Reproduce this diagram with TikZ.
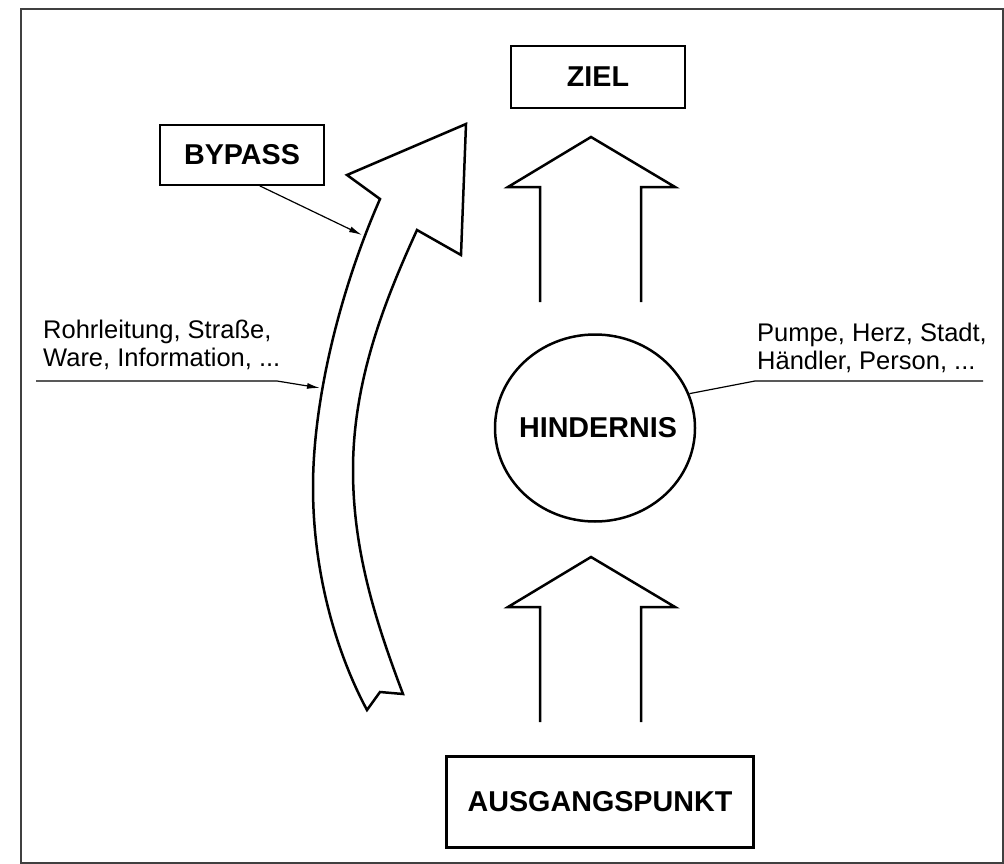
\documentclass[tikz,border=0pt]{standalone}
\usepackage{fontspec}
\setmainfont{Liberation Sans}
\usetikzlibrary{arrows.meta,shapes.geometric}

\tikzstyle{mybox} = [rectangle, draw, line width=2.5pt, text centered, inner sep=0pt,
                     font=\fontsize{28.7}{34}\selectfont\bfseries]
\tikzstyle{blockarrow} = [draw, line width=2.5pt, line join=miter]
\tikzstyle{line} = [draw, -{Latex[length=13pt,width=6pt]}, line width=1.2pt]
\tikzstyle{note} = [font=\fontsize{25.5}{27.5}\selectfont, align=left, inner sep=0pt, anchor=north west]

\begin{document}
\begin{tikzpicture}[x=1pt, y=-1pt]
    \useasboundingbox (0,0) rectangle (1004,864);
    \draw[line width=2pt, black!75] (21,9) rectangle (1003,863);

    \node[mybox, minimum width=174pt, minimum height=62pt] (Ziel) at (598,77) {ZIEL};
    \node[mybox, line width=1.8pt, minimum width=164pt, minimum height=60pt]
            (Bypass) at (242,155) {BYPASS};
    \node[mybox, ellipse, minimum width=200pt, minimum height=187pt]
            (Hindernis) at (595,428) {\makebox[0pt]{\hspace{6pt}HINDERNIS}};
    \node[mybox, minimum width=307pt, minimum height=91pt]
            (Ausgangspunkt) at (600,802) {AUSGANGSPUNKT};

    % straight arrows through the obstacle
    \foreach \tip in {137,557}
        \draw[blockarrow] (540,\tip+165) -- (540,\tip+50) -- (508,\tip+50) -- (591,\tip)
            -- (675,\tip+50) -- (641,\tip+50) -- (641,\tip+165);

    % curved bypass arrow
    \draw[blockarrow] (367,710) -- (380,692) -- (403,694)
        .. controls (375,620) and (353,550) .. (353,470)
        .. controls (353,380) and (385,300) .. (417,230)
        -- (461,255) -- (466,124) -- (347,175) -- (380,199)
        .. controls (340,290) and (313,400) .. (313,487)
        .. controls (313,580) and (340,660) .. (367,710)
        -- cycle;

    \coordinate (BypassTip) at (362,235);
    \path[line] (Bypass.-60) -- (BypassTip);

    \node[note] (Medium) at (43,320) {Rohrleitung, Straße,\\Ware, Information, ...};
    \coordinate (MediumStart) at (36,381);
    \coordinate (MediumTip) at (320,388);
    \path[line] (MediumStart) -- (277,381) -- (MediumTip);

    \node[note] (Beispiele) at (757,323) {Pumpe, Herz, Stadt,\\Händler, Person, ...};
    \coordinate (BeispieleEnd) at (983,381);
    \draw[line width=1.2pt] (BeispieleEnd) -- (755,381) -- (Hindernis.20);
\end{tikzpicture}
\end{document}
